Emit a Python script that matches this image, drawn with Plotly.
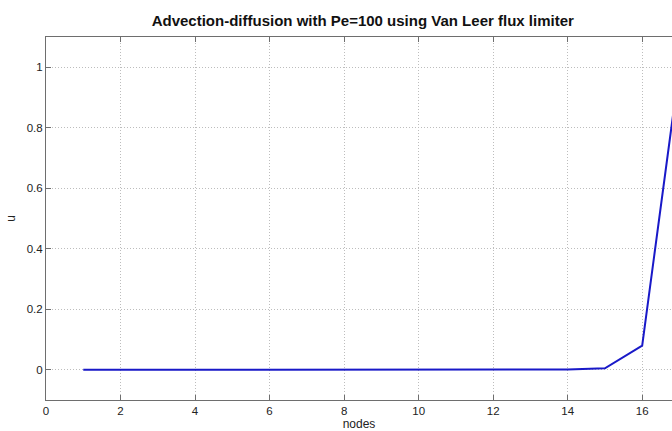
import plotly.graph_objects as go

# Solution of the steady advection-diffusion problem at each grid node
nodes = list(range(1, 18))
u = [0, 0, 0, 0, 0, 0, 0, 0, 0, 0, 0, 0, 0, 0.0005, 0.005, 0.08, 1.0]

x_ticks = [0, 2, 4, 6, 8, 10, 12, 14, 16]
y_ticks = [0, 0.2, 0.4, 0.6, 0.8, 1]
y_labels = ["0", "0.2", "0.4", "0.6", "0.8", "1"]

FONT = "Liberation Sans, Arial, sans-serif"

fig = go.Figure()
fig.add_trace(go.Scatter(
    x=nodes, y=u, mode="lines",
    line=dict(color="rgb(25,25,200)", width=2),
    showlegend=False,
))

axis_common = dict(
    showline=True, linecolor="#6e6e6e", linewidth=1,
    ticks="inside", ticklen=5, tickcolor="#6e6e6e",
    showgrid=True, gridcolor="#bdbdbd", gridwidth=1, griddash="1px,2px",
    zeroline=False,
    tickfont=dict(family=FONT, size=11.5, color="#222222"),
)

fig.update_layout(
    width=672, height=431,
    margin=dict(l=46, r=0, t=37, b=31),
    paper_bgcolor="white", plot_bgcolor="white",
    title=dict(
        text="<b>Advection-diffusion with Pe=100 using Van Leer flux limiter</b>",
        font=dict(family=FONT, size=15, color="#111111"),
        x=0.506, xanchor="center", xref="paper",
        y=1 - 21 / 431, yanchor="middle", yref="container",
    ),
    xaxis=dict(
        range=[0, 16.8], tickvals=x_ticks, mirror="ticks",
        title=dict(text="nodes", font=dict(family=FONT, size=12, color="#222222"), standoff=2),
        **axis_common,
    ),
    yaxis=dict(
        range=[-0.1, 1.1], tickvals=y_ticks, ticktext=y_labels, mirror=False,
        title=dict(text="u", font=dict(family=FONT, size=12, color="#222222"), standoff=8),
        **axis_common,
    ),
)

fig.write_html("out.html")
